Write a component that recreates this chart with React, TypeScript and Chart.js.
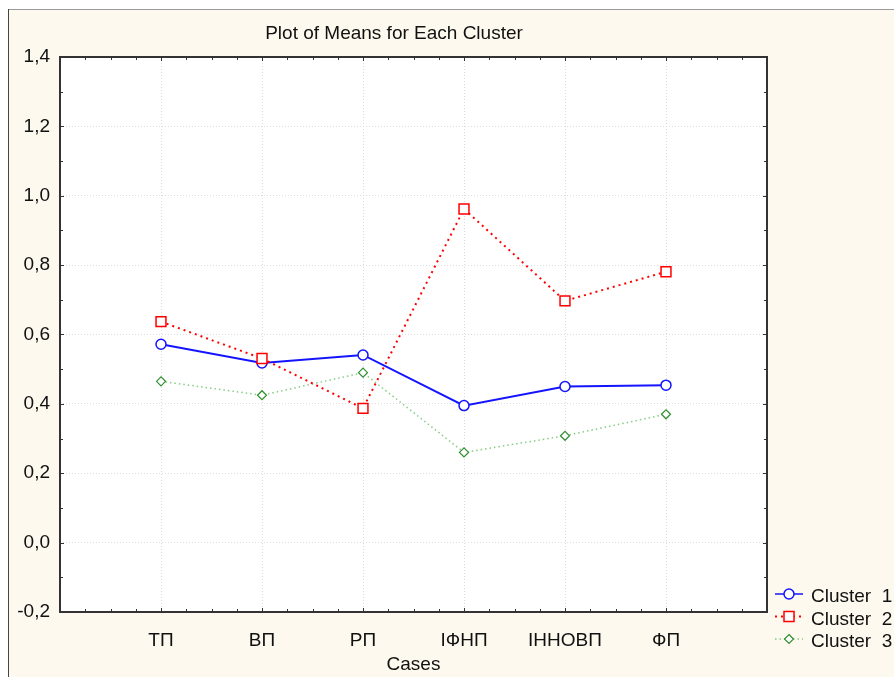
import React, { useEffect, useRef } from 'react';
import { Chart, registerables } from 'chart.js';

Chart.register(...registerables);

const categories = ['ТП', 'ВП', 'РП', 'ІФНП', 'ІННОВП', 'ФП'];
const cluster1 = [0.572, 0.518, 0.541, 0.395, 0.45, 0.454];
const cluster2 = [0.637, 0.531, 0.387, 0.962, 0.697, 0.781];
const cluster3 = [0.465, 0.425, 0.49, 0.26, 0.308, 0.37];
const seriesNames = ['Cluster  1', 'Cluster  2', 'Cluster  3'];
const yMin = -0.2;
const yMax = 1.4;
const yStep = 0.2;
const chartTitle = 'Plot of Means for Each Cluster';
const xTitle = 'Cases';

const FONT = "'Liberation Sans', Arial, sans-serif";
const BLUE = '#1414ff';
const RED = '#ff0000';
const GREEN_LINE = '#86cc86';
const GREEN_MARK = '#2f8f2f';

const toPts = (arr: number[]) => arr.map((v, i) => ({ x: i + 1, y: v }));

function drawMarker(ctx: CanvasRenderingContext2D, style: string, x: number, y: number, color: string, lw: number) {
  ctx.save();
  ctx.strokeStyle = color;
  ctx.fillStyle = '#ffffff';
  ctx.lineWidth = lw;
  ctx.setLineDash([]);
  ctx.beginPath();
  if (style === 'circle') {
    ctx.arc(x, y, 5, 0, Math.PI * 2);
  } else if (style === 'rect') {
    ctx.rect(x - 5, y - 5, 10, 10);
  } else {
    ctx.moveTo(x, y - 4.5);
    ctx.lineTo(x + 4.5, y);
    ctx.lineTo(x, y + 4.5);
    ctx.lineTo(x - 4.5, y);
    ctx.closePath();
  }
  ctx.fill();
  ctx.stroke();
  ctx.restore();
}

const framePlugin = {
  id: 'framePlugin',
  beforeDraw(chart: any) {
    const { ctx, width, height, chartArea: a } = chart;
    ctx.save();
    ctx.fillStyle = '#fef9ee';
    ctx.fillRect(0, 1, width, height - 1);
    ctx.fillStyle = '#ffffff';
    ctx.fillRect(a.left, a.top, a.right - a.left, a.bottom - a.top);
    ctx.strokeStyle = '#9a9a9a';
    ctx.lineWidth = 1;
    ctx.beginPath();
    ctx.moveTo(0, 1.5);
    ctx.lineTo(width, 1.5);
    ctx.stroke();
    ctx.strokeStyle = '#444444';
    ctx.beginPath();
    ctx.moveTo(0.5, 1);
    ctx.lineTo(0.5, height);
    ctx.stroke();
    ctx.restore();
  },
  afterDraw(chart: any) {
    const { ctx, chartArea: a } = chart;
    const xs = chart.scales.x;
    const ys = chart.scales.y;
    ctx.save();
    // frame
    ctx.strokeStyle = '#333333';
    ctx.lineWidth = 2;
    ctx.strokeRect(a.left, a.top, a.right - a.left, a.bottom - a.top);
    // ticks
    ctx.lineWidth = 1;
    ctx.beginPath();
    for (let k = 0; k <= 16; k++) {
      const v = yMin + k * 0.1;
      const y = Math.round(ys.getPixelForValue(v)) + 0.5;
      const len = k % 2 === 0 ? 4 : 3;
      ctx.moveTo(a.left, y);
      ctx.lineTo(a.left + len, y);
      ctx.moveTo(a.right, y);
      ctx.lineTo(a.right - len, y);
    }
    for (let k = 0; k <= 28; k++) {
      const v = k * 0.25;
      const x = Math.round(xs.getPixelForValue(v)) + 0.5;
      const len = k % 4 === 0 ? 4 : 3;
      ctx.moveTo(x, a.top);
      ctx.lineTo(x, a.top + len);
      ctx.moveTo(x, a.bottom);
      ctx.lineTo(x, a.bottom - len);
    }
    ctx.stroke();
    // titles
    ctx.fillStyle = '#111111';
    ctx.font = `19px ${FONT}`;
    ctx.textAlign = 'center';
    ctx.textBaseline = 'alphabetic';
    ctx.fillText(chartTitle, 386, 31);
    ctx.fillText(xTitle, (a.left + a.right) / 2, 662);
    // legend
    const items = [
      { name: seriesNames[0], color: BLUE, mark: BLUE, dash: [] as number[], lw: 1.5, style: 'circle', mlw: 1.5 },
      { name: seriesNames[1], color: RED, mark: RED, dash: [2, 4], lw: 2, style: 'rect', mlw: 1.5 },
      { name: seriesNames[2], color: GREEN_LINE, mark: GREEN_MARK, dash: [1.5, 3], lw: 1.5, style: 'rectRot', mlw: 1.2 },
    ];
    items.forEach((it, i) => {
      const y = 586 + i * 22.5;
      ctx.save();
      ctx.strokeStyle = it.color;
      ctx.lineWidth = it.lw;
      ctx.setLineDash(it.dash);
      ctx.beginPath();
      ctx.moveTo(767, y);
      ctx.lineTo(795, y);
      ctx.stroke();
      ctx.restore();
      drawMarker(ctx, it.style, 781, y, it.mark, it.mlw);
      ctx.fillStyle = '#111111';
      ctx.textAlign = 'left';
      ctx.textBaseline = 'alphabetic';
      ctx.fillText(it.name, 803, y + 8);
    });
    ctx.restore();
  },
};

export default function App() {
  const ref = useRef<HTMLCanvasElement | null>(null);
  useEffect(() => {
    if (!ref.current) return;
    const chart = new Chart(ref.current, {
      type: 'line',
      data: {
        datasets: [
          {
            label: seriesNames[0],
            data: toPts(cluster1),
            borderColor: BLUE,
            backgroundColor: '#ffffff',
            borderWidth: 2,
            pointStyle: 'circle',
            pointRadius: 5,
            pointBorderWidth: 1.5,
            pointBorderColor: BLUE,
            pointBackgroundColor: '#ffffff',
            order: 1,
          },
          {
            label: seriesNames[1],
            data: toPts(cluster2),
            borderColor: RED,
            backgroundColor: '#ffffff',
            borderWidth: 2,
            borderDash: [2, 4],
            pointStyle: 'rect',
            pointRadius: 7,
            pointBorderWidth: 1.5,
            pointBorderColor: RED,
            pointBackgroundColor: '#ffffff',
            order: 0,
          },
          {
            label: seriesNames[2],
            data: toPts(cluster3),
            borderColor: GREEN_LINE,
            backgroundColor: '#ffffff',
            borderWidth: 1.5,
            borderDash: [1.5, 3],
            pointStyle: 'rectRot',
            pointRadius: 4.5,
            pointBorderWidth: 1.2,
            pointBorderColor: GREEN_MARK,
            pointBackgroundColor: '#ffffff',
            order: 2,
          },
        ],
      },
      options: {
        animation: false,
        responsive: false,
        maintainAspectRatio: false,
        layout: { padding: { left: 0, top: 49, right: 127, bottom: 0 } },
        plugins: {
          legend: { display: false },
          title: { display: false },
          tooltip: { enabled: false },
        },
        scales: {
          x: {
            type: 'linear',
            min: 0,
            max: 7,
            afterFit: (s: any) => {
              s.height = 65;
            },
            ticks: {
              stepSize: 1,
              autoSkip: false,
              maxRotation: 0,
              padding: 17,
              color: '#111111',
              font: { family: FONT, size: 19 },
              callback: (v: any) => {
                const i = Math.round(Number(v));
                return i >= 1 && i <= categories.length ? categories[i - 1] : '';
              },
            },
            grid: {
              drawTicks: false,
              color: (c: any) => {
                const v = c.tick ? c.tick.value : 0;
                return v >= 1 && v <= categories.length ? '#dcdcdc' : 'rgba(0,0,0,0)';
              },
              lineWidth: 1,
            },
            border: { display: false, dash: [1, 2] },
          },
          y: {
            type: 'linear',
            min: yMin,
            max: yMax,
            afterFit: (s: any) => {
              s.width = 52;
            },
            ticks: {
              stepSize: yStep,
              padding: 10,
              color: '#111111',
              font: { family: FONT, size: 19 },
              callback: (v: any) => {
                const n = Math.abs(Number(v)) < 1e-9 ? 0 : Number(v);
                return n.toFixed(1).replace('.', ',');
              },
            },
            grid: {
              drawTicks: false,
              color: (c: any) => {
                const v = c.tick ? c.tick.value : 0;
                return v > yMin + 0.01 && v < yMax - 0.01 ? '#dcdcdc' : 'rgba(0,0,0,0)';
              },
              lineWidth: 1,
            },
            border: { display: false, dash: [1, 2] },
          },
        },
      },
      plugins: [framePlugin],
    } as any);
    return () => chart.destroy();
  }, []);
  return (
    <div style={{ position: 'fixed', left: 8, top: 8, width: 886, height: 669 }}>
      <canvas ref={ref} width={886} height={669} style={{ display: 'block', width: 886, height: 669 }} />
    </div>
  );
}
